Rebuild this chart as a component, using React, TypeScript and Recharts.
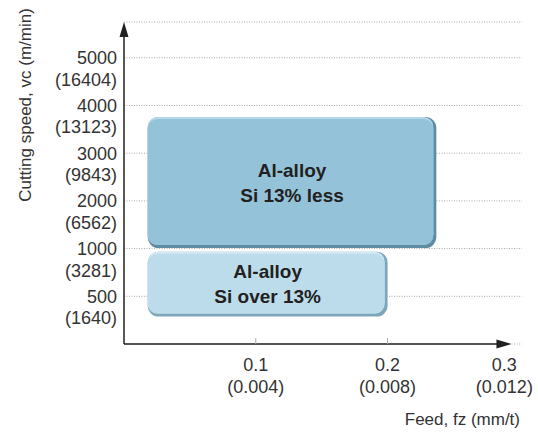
import { ComposedChart, XAxis, YAxis, CartesianGrid, ReferenceArea, ReferenceLine } from 'recharts';

// y axis: cutting speed in m/min, ft/min in brackets
const speedTicks = [500, 1000, 2000, 3000, 4000, 5000];
const speedTicksFt = ['1640', '3281', '6562', '9843', '13123', '16404'];
// x axis: feed in mm/t, inch/t in brackets
const feedTicks = [0.1, 0.2, 0.3];
const feedTicksIn = ['0.004', '0.008', '0.012'];

// application ranges
const rangeTitles = ['Al-alloy', 'Al-alloy'];
const rangeSubtitles = ['Si 13% less', 'Si over 13%'];
const feedFrom = [0.018, 0.018];
const feedTo = [0.237, 0.2];
const speedFrom = [1010, 287];
const speedTo = [3760, 968];

const FONT = '"Liberation Sans", Arial, sans-serif';
const TEXT = '#333';

// the speed axis is not linear: each labelled speed sits one step above the previous one
const levelSpeeds = [0, ...speedTicks];
function speedToLevel(v: number) {
  for (let i = 1; i < levelSpeeds.length; i++) {
    if (v <= levelSpeeds[i]) {
      const lo = levelSpeeds[i - 1];
      const hi = levelSpeeds[i];
      return i - 1 + (v - lo) / (hi - lo);
    }
  }
  return levelSpeeds.length - 1;
}
const speedLevelTicks = speedTicks.map(speedToLevel);

const boxStyles = [
  { fill: '#94c3d9', light: '#b6d7e7', edge: '#5e8ca3' },
  { fill: '#bcdcec', light: '#d3e9f4', edge: '#7fa7bb' },
];

function makeBox(i: number) {
  return (props: any) => {
    const { x, y, width, height } = props;
    const s = boxStyles[i];
    const cx = x + width / 2;
    const cy = y + height / 2;
    return (
      <g>
        <rect x={x} y={y} width={width} height={height} rx={11} fill={s.edge} />
        <rect x={x} y={y} width={width - 3} height={height - 3} rx={10} fill={s.light} />
        <rect x={x} y={y + 2} width={width - 3} height={height - 5} rx={10} fill={s.fill} />
        <text x={cx} textAnchor="middle" fontFamily={FONT} fontWeight="bold" fontSize={19} fill="#231f20">
          <tspan x={cx} y={cy - 6}>{rangeTitles[i]}</tspan>
          <tspan x={cx} y={cy + 19}>{rangeSubtitles[i]}</tspan>
        </text>
      </g>
    );
  };
}

function SpeedTick(props: any) {
  const { x, y, index } = props;
  return (
    <text textAnchor="end" fontFamily={FONT} fontSize={18} fill={TEXT}>
      <tspan x={x - 7} y={y + 6.5}>{speedTicks[index]}</tspan>
      <tspan x={x - 7} y={y + 28}>({speedTicksFt[index]})</tspan>
    </text>
  );
}

function FeedTick(props: any) {
  const { x, y, index } = props;
  const last = index === feedTicks.length - 1;
  const tx = last ? x - 15 : x;
  return (
    <g>
      {!last && <line x1={x} x2={x} y1={y - 6} y2={y} stroke="#aaa" strokeWidth={1} />}
      <text textAnchor="middle" fontFamily={FONT} fontSize={18} fill={TEXT}>
        <tspan x={tx} y={y + 27}>{feedTicks[index]}</tspan>
        <tspan x={tx} y={y + 49}>({feedTicksIn[index]})</tspan>
      </text>
    </g>
  );
}

function ArrowLine(props: any) {
  const { x1, y1, x2, y2 } = props;
  const vertical = Math.abs(x1 - x2) < 1;
  if (vertical) {
    const top = Math.min(y1, y2);
    const bottom = Math.max(y1, y2);
    return (
      <g>
        <line x1={x1} x2={x1} y1={bottom} y2={top + 10} stroke="#222" strokeWidth={1.5} />
        <polygon points={`${x1},${top} ${x1 - 4.5},${top + 15} ${x1 + 4.5},${top + 15}`} fill="#222" />
      </g>
    );
  }
  const left = Math.min(x1, x2);
  const right = Math.max(x1, x2);
  return (
    <g>
      <line x1={left} x2={right - 10} y1={y1} y2={y1} stroke="#222" strokeWidth={1.5} />
      <polygon points={`${right},${y1} ${right - 15},${y1 - 4.5} ${right - 15},${y1 + 4.5}`} fill="#222" />
    </g>
  );
}

export default function App() {
  return (
    <div style={{ position: 'absolute', left: 0, top: 0, width: 538, height: 432, background: '#fff' }}>
      <ComposedChart width={538} height={432} margin={{ top: 22, right: 16, bottom: 0, left: 0 }}>
        <CartesianGrid vertical={false} stroke="#aaa" strokeDasharray="1 1.5" />
        <XAxis
          type="number"
          dataKey="feed"
          domain={[0, 0.302]}
          ticks={feedTicks}
          allowDataOverflow
          height={88}
          axisLine={false}
          tickLine={false}
          tickSize={0}
          tickMargin={0}
          tick={<FeedTick />}
          interval={0}
          label={(p: any) => (
            <text x={520} y={425} textAnchor="end" fontFamily={FONT} fontSize={17} fill={TEXT}>
              Feed, fz (mm/t)
            </text>
          )}
        />
        <YAxis
          type="number"
          domain={[0, 6.75]}
          ticks={speedLevelTicks}
          allowDataOverflow
          width={124}
          axisLine={false}
          tickLine={false}
          tickSize={0}
          tickMargin={0}
          tick={<SpeedTick />}
          interval={0}
          label={(p: any) => (
            <text
              x={25}
              y={105}
              textAnchor="middle"
              dominantBaseline="central"
              transform="rotate(-90 25 105)"
              fontFamily={FONT}
              fontSize={17}
              fill={TEXT}
            >
              Cutting speed, vc (m/min)
            </text>
          )}
        />
        {rangeTitles.map((_, i) => (
          <ReferenceArea
            key={i}
            x1={feedFrom[i]}
            x2={feedTo[i]}
            y1={speedToLevel(speedFrom[i])}
            y2={speedToLevel(speedTo[i])}
            ifOverflow="visible"
            shape={makeBox(i)}
          />
        ))}
        <ReferenceLine
          segment={[{ x: 0, y: 0 }, { x: 0, y: 6.75 }]}
          ifOverflow="visible"
          shape={ArrowLine}
        />
        <ReferenceLine
          segment={[{ x: 0, y: 0 }, { x: 0.294, y: 0 }]}
          ifOverflow="visible"
          shape={ArrowLine}
        />
      </ComposedChart>
    </div>
  );
}
